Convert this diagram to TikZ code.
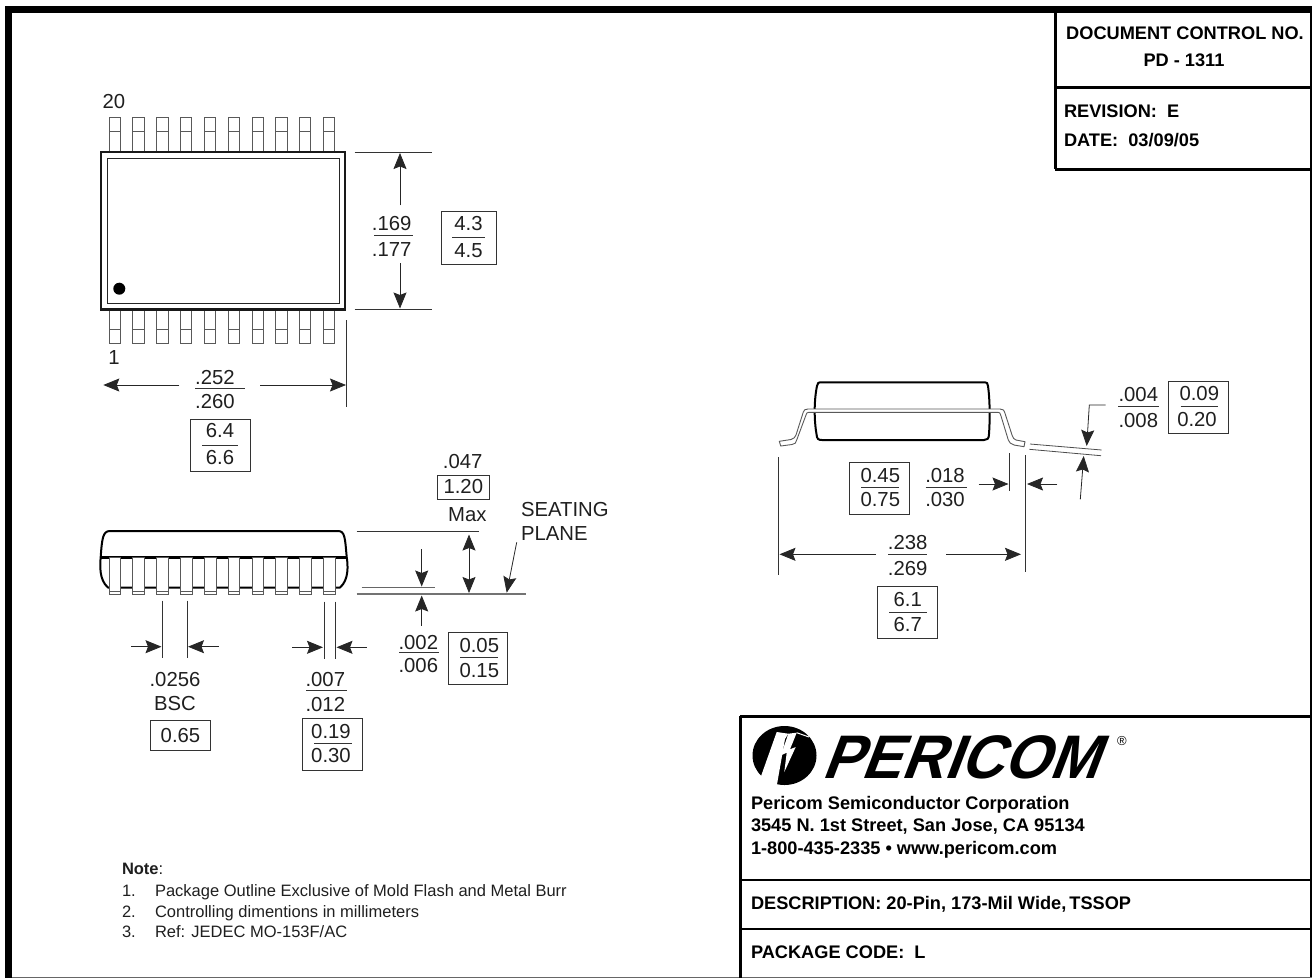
\documentclass[tikz,border=0pt]{standalone}
\usepackage{fontspec}
\setmainfont{Liberation Sans}
\usetikzlibrary{arrows.meta}

\tikzset{
    every node/.style={inner sep=0pt, outer sep=0pt},
    dimtext/.style={font=\fontsize{20.3}{22}\selectfont, text=black!88},
    smalltext/.style={font=\fontsize{16.5}{18}\selectfont, text=black!88, anchor=base west},
    boldtext/.style={font=\fontsize{18.2}{20}\bfseries\selectfont, anchor=base west},
    dimbox/.style={draw=black!80, line width=.9pt},
    dimarrow/.style={draw=black!85, line width=.8pt, >={Stealth[length=16pt,width=13pt,inset=2.5pt]}},
    dimline/.style={draw=black!80, line width=.8pt},
    pin/.style={draw=black!65, line width=.9pt},
    frame/.style={draw=black, line width=3pt},
}

\begin{document}
\begin{tikzpicture}[x=1pt,y=-1pt]
        \useasboundingbox (0,0) rectangle (1312,978);

        % sheet border
        \fill[black] (5,6) rectangle (1312,13);
        \fill[black] (5,6) rectangle (12,978);
        \fill[black] (1310,13) rectangle (1312,978);
        \draw[draw=black!60, line width=1.2pt] (12,977.4) -- (1312,977.4);

        % title blocks
        \draw[frame] (1055,13) -- (1055,169);
        \draw[frame] (1055,87) -- (1312,87);
        \draw[frame] (1055,169) -- (1312,169);
        \draw[frame] (740,716) -- (1312,716);
        \draw[frame] (740,716) -- (740,978);
        \draw[frame, line width=2pt] (740,880) -- (1312,880);
        \draw[frame, line width=2pt] (740,929) -- (1312,929);

        \node[boldtext, anchor=center] (docno) at (1185,33) {DOCUMENT CONTROL NO.};
        \node[boldtext, anchor=center] (pdno) at (1184,60) {PD - 1311};
        \node[boldtext] (rev) at (1064,117.5) {REVISION:\ \ E};
        \node[boldtext] (date) at (1064,146.5) {DATE:\ \ 03/09/05};

        % top view
        \foreach \i in {0,...,9} {
            \draw[pin] ({109+\i*23.83},117.7) rectangle ({120.3+\i*23.83},152);
            \draw[pin] ({109+\i*23.83},131.3) -- ({120.3+\i*23.83},131.3);
            \draw[pin] ({109+\i*23.83},309) rectangle ({120.3+\i*23.83},343.3);
            \draw[pin] ({109+\i*23.83},329.3) -- ({120.3+\i*23.83},329.3);
        }
        \draw[fill=white, draw=black!90, line width=2.4pt] (100.7,152) rectangle (345,309.3);
        \draw[draw=black!85, line width=.9pt] (107.3,158.3) rectangle (339,303.3);
        \fill[black] (119.3,288.7) circle[radius=6pt];
        \node[dimtext] (pin20) at (114,102) {20};
        \node[dimtext] (pin1) at (114,358) {1};

        \draw[dimline] (354.7,152) -- (432,152);
        \draw[dimline] (354.7,309.3) -- (432,309.3);
        \draw[dimline] (346.7,320) -- (346.7,407);
        \draw[dimarrow, ->] (400,205.3) -- (400,153);
        \draw[dimarrow, ->] (400,263.3) -- (400,308.5);
        \draw[dimarrow, ->] (179.3,385) -- (103.3,385);
        \draw[dimarrow, ->] (260,385) -- (346,385);

        \node[dimtext] (w169) at (391.7,224) {.169};
        \draw[dimline] (374,235.7) -- (413.3,235.7);
        \node[dimtext] (w177) at (391.7,249.3) {.177};
        \node[dimbox, minimum width=55pt, minimum height=53pt] (box43) at (468.5,237.5) {};
        \node[dimtext] (w43) at (468.5,224) {4.3};
        \draw[dimline] (452,237.5) -- (485,237.5);
        \node[dimtext] (w45) at (468.5,250.5) {4.5};

        \node[dimtext] (l252) at (215,378) {.252};
        \draw[dimline] (195,388) -- (245,388);
        \node[dimtext] (l260) at (215,402) {.260};
        \node[dimbox, minimum width=60pt, minimum height=52pt] (box64) at (220,445) {};
        \node[dimtext] (l64) at (220,431) {6.4};
        \draw[dimline] (202,445) -- (238,445);
        \node[dimtext] (l66) at (220,457.5) {6.6};

        % side view
        \draw[draw=black, line width=2pt, line join=round] (110,531) .. controls (103,531) and (102,538) .. (100.7,557)
            .. controls (100,565) and (99,580) .. (108,587.5) -- (340,587.5)
            .. controls (349,580) and (348,565) .. (346.7,557)
            .. controls (345,538) and (345,531) .. (338,531) -- cycle;
        \draw[draw=black, line width=3pt] (100.7,557.3) -- (346.7,557.3);
        \foreach \i in {0,...,9} {
            \draw[pin, fill=white] ({109+\i*23.83},557) rectangle ({120.7+\i*23.83},594.3);
            \draw[pin] ({109+\i*23.83},591.3) -- ({120.7+\i*23.83},591.3);
        }

        \draw[dimline] (356.7,531) -- (479.3,531);
        \draw[dimline, draw=black!60] (361.7,587) -- (435.3,587);
        \draw[dimline, draw=black!55, line width=1.8pt] (356.7,594) -- (526,594);
        \draw[dimarrow, <->] (469,534.5) -- (469,593);
        \draw[dimarrow, ->] (421.7,549.3) -- (421.7,586.5);
        \draw[dimarrow, ->] (421.7,625.7) -- (421.7,595.5);
        \draw[dimarrow, ->] (516.7,542.3) -- (506.7,592.7);

        \node[dimtext] (h047) at (462.7,462) {.047};
        \node[dimbox, minimum width=52pt, minimum height=24pt] (box120) at (463.3,487) {};
        \node[dimtext] (h120) at (463.3,487) {1.20};
        \node[dimtext] (hmax) at (467.3,515) {Max};
        \node[dimtext, anchor=base west] (seat1) at (521,516) {SEATING};
        \node[dimtext, anchor=base west] (seat2) at (521,540) {PLANE};

        \draw[dimline] (162.3,600.7) -- (162.3,658.3);
        \draw[dimline] (187,600.7) -- (187,658.3);
        \draw[dimarrow, ->] (131,646.7) -- (161.5,646.7);
        \draw[dimarrow, ->] (218.7,646.7) -- (188,646.7);
        \node[dimtext] (p0256) at (175,680) {.0256};
        \node[dimtext] (pbsc) at (175,703.3) {BSC};
        \node[dimbox, minimum width=59.6pt, minimum height=29.3pt] (box065) at (180.5,735.3) {};
        \node[dimtext] (p065) at (180.5,735.3) {0.65};

        \draw[dimline] (324,601.7) -- (324,659.3);
        \draw[dimline] (335.7,601.7) -- (335.7,659.3);
        \draw[dimarrow, ->] (292.3,647.3) -- (323,647.3);
        \draw[dimarrow, ->] (366.7,647.3) -- (336.5,647.3);
        \node[dimtext] (t007) at (325.3,679.3) {.007};
        \draw[dimline] (306,690) -- (346.7,690);
        \node[dimtext] (t012) at (325.3,704) {.012};
        \node[dimbox, minimum width=59.3pt, minimum height=52pt] (box019) at (332.3,744) {};
        \node[dimtext] (t019) at (331,731) {0.19};
        \draw[dimline] (314,743.3) -- (352,743.3);
        \node[dimtext] (t030) at (331,755.7) {0.30};

        \node[dimtext] (s002) at (418.3,642.3) {.002};
        \draw[dimline] (399,652.7) -- (438.7,652.7);
        \node[dimtext] (s006) at (418.3,666) {.006};
        \node[dimbox, minimum width=59.4pt, minimum height=51.6pt] (box005) at (478,658.5) {};
        \node[dimtext] (s005) at (479.3,645.7) {0.05};
        \draw[dimline] (460,657.3) -- (498,657.3);
        \node[dimtext] (s015) at (479.3,670) {0.15};

        % end view
        \draw[draw=black, line width=2pt, line join=round] (822,382.3) -- (985,382.3)
            .. controls (987,382.3) and (987.5,383) .. (988,386)
            .. controls (990,400) and (990,420) .. (989,434)
            .. controls (989,439) and (987,440) .. (984,440) -- (822,440)
            .. controls (818,440) and (817,439) .. (816.5,434)
            .. controls (814,420) and (814,400) .. (817,386)
            .. controls (817.5,383) and (818,382.3) .. (822,382.3) -- cycle;
        \draw[pin, fill=white, line join=round] (808,409) -- (1000,409)
            .. controls (1003,409) and (1004,410) .. (1005,413.3)
            -- (1012,435) .. controls (1013,438) and (1014,439.5) .. (1016,440)
            -- (1025,441.7) -- (1024,446.7) -- (1014,445)
            .. controls (1011,444.5) and (1009,442) .. (1008.3,440)
            -- (1001,416) .. controls (1000,413) and (1000,412.3) .. (998,412.3)
            -- (809,412.3) .. controls (807,412.3) and (806.5,413) .. (806,415)
            -- (796.7,440) .. controls (796,443) and (795,444) .. (792,444.5)
            -- (780.7,446) -- (779.3,441.3) -- (791,439.5)
            .. controls (794,439) and (795,437) .. (796,435)
            -- (803.3,412) .. controls (804,410) and (805,409) .. (808,409) -- cycle;

        \draw[dimline] (778.7,457.3) -- (778.7,575);
        \draw[dimline] (1025.7,455) -- (1025.7,571.7);
        \draw[dimline] (1009.7,453.3) -- (1009.7,490.7);
        \draw[dimarrow, ->] (876,554.3) -- (779.5,554.3);
        \draw[dimarrow, ->] (946,554.3) -- (1021,554.3);
        \draw[dimarrow, ->] (978.7,484) -- (1008.5,484);
        \draw[dimarrow, ->] (1057.3,484) -- (1027,484);
        \draw[dimline, draw=black!70] (1030,444) -- (1101.7,450);
        \draw[dimline, draw=black!70] (1029.3,449.3) -- (1101,455.7);
        \draw[dimarrow, ->] (1105.7,405) -- (1089.3,405) -- (1086.7,446);
        \draw[dimarrow, ->] (1080.3,499.3) -- (1083.7,456);

        \node[dimtext] (e238) at (907.7,542.7) {.238};
        \draw[dimline] (888.3,554) -- (927.3,554);
        \node[dimtext] (e269) at (907.7,568.3) {.269};
        \node[dimbox, minimum width=60pt, minimum height=52.3pt] (box61) at (907.7,612.2) {};
        \node[dimtext] (e61) at (907.7,599.3) {6.1};
        \draw[dimline] (889,612.3) -- (926.7,612.3);
        \node[dimtext] (e67) at (907.7,625) {6.7};

        \node[dimbox, minimum width=59.7pt, minimum height=52.3pt] (box045) at (879.2,488.2) {};
        \node[dimtext] (f045) at (880.3,475.7) {0.45};
        \draw[dimline] (861,487) -- (899.3,487);
        \node[dimtext] (f075) at (880.3,500) {0.75};
        \node[dimtext] (f018) at (945,475.7) {.018};
        \draw[dimline] (925.7,487) -- (966.7,487);
        \node[dimtext] (f030) at (945,500) {.030};

        \node[dimtext] (g004) at (1138.3,395) {.004};
        \draw[dimline] (1118.3,406.3) -- (1159.3,406.3);
        \node[dimtext] (g008) at (1138.3,420.7) {.008};
        \node[dimbox, minimum width=59.6pt, minimum height=51.7pt] (box009) at (1198.5,407.2) {};
        \node[dimtext] (g009) at (1199.3,394) {0.09};
        \draw[dimline] (1180.7,406.3) -- (1218,406.3);
        \node[dimtext] (g020) at (1197,420) {0.20};

        % logo
        \fill[black] (784.5,755.5) ellipse[x radius=32pt, y radius=29.5pt];
        \fill[white] (760,779) -- (776.7,732) -- (788.3,733.7) -- (785,739) -- (776.7,786) -- (760,786) -- cycle;
        \fill[white] (788.3,733.7) -- (781,755.3) -- (786.7,752.7) -- (784.3,772) -- (795.7,747) -- (790,749.3) -- (796.7,732.7) -- cycle;
        \draw[white, line width=1pt] (796.7,732.7) -- (809,737);
        \node[font=\fontsize{61.5}{64}\bfseries\selectfont, anchor=base west, xslant=.38, xscale=.965, transform shape] (logo) at (821,778) {PERICOM};
        \node[font=\fontsize{13}{14}\selectfont] (regmark) at (1122,741) {®};

        \node[boldtext] (corp) at (751,809) {Pericom Semiconductor Corporation};
        \node[boldtext] (addr) at (751,831.5) {3545 N. 1st Street, San Jose, CA 95134};
        \node[boldtext] (tel) at (751,854) {1-800-435-2335 • www.pericom.com};
        \node[boldtext] (descr) at (751,909) {DESCRIPTION: 20-Pin, 173-Mil Wide,\,TSSOP};
        \node[boldtext] (code) at (751,958) {PACKAGE CODE:\ \ L};

        % notes
        \node[smalltext] (note) at (122,874.3) {\textbf{Note}:};
        \node[smalltext] (n1) at (122,896.7) {1.};
        \node[smalltext] (note1) at (155,896.7) {Package Outline Exclusive of Mold Flash and Metal Burr};
        \node[smalltext] (n2) at (122,917) {2.};
        \node[smalltext] (note2) at (155,917) {Controlling dimentions in millimeters};
        \node[smalltext] (n3) at (122,937) {3.};
        \node[smalltext] (note3) at (155,937) {Ref: JEDEC MO-153F/AC};
\end{tikzpicture}
\end{document}
